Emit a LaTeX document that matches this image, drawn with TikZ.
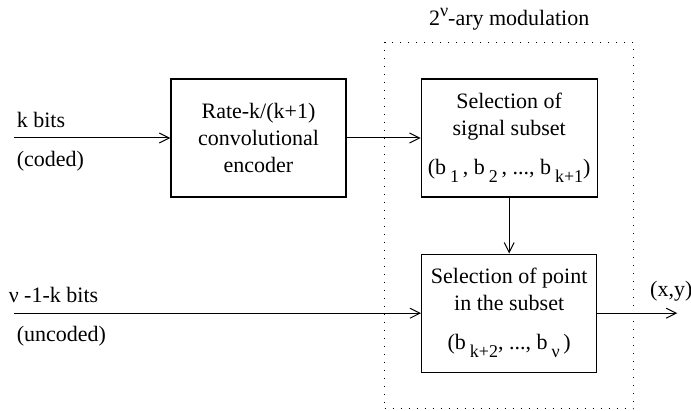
\documentclass[tikz,border=0pt]{standalone}
\usepackage{fontspec}
\setmainfont{Liberation Serif}
\usetikzlibrary{arrows.meta, positioning, fit}
\newcommand{\lowidx}[1]{\kern2pt\raisebox{-4pt}{\fontsize{9}{10}\selectfont #1}}

\begin{document}
\begin{tikzpicture}[
  x=0.5pt, y=-0.5pt,
  box/.style={draw, minimum width=87.5pt, minimum height=59pt, align=center,
    line width=0.6pt, font=\fontsize{11}{13.5}\selectfont},
  conn/.style={-{Straight Barb[length=5pt, width=5pt]}, line width=0.5pt},
  lbl/.style={font=\fontsize{11}{13.5}\selectfont, inner sep=1pt},
  group/.style={draw, dash pattern=on 0.6pt off 3.4pt, line width=0.6pt, inner sep=18pt},
]
\useasboundingbox (0,0) rectangle (691,411);

% =================== blocks ===================
\node[box] (enc) at (258.5,138) {Rate-k/(k+1)\\ convolutional\\ encoder};
\node[box, right=37pt of enc] (subset)
  {Selection of\\ signal subset\\[6pt] (b\lowidx{1}\,, b\lowidx{2}\,, ..., b\lowidx{k+1})};
\node[box, below=28pt of subset] (point)
  {Selection of point\\ in the subset\\[6pt] (b\lowidx{k+2}, ..., b\lowidx{ν}\,)};

% modulator frame
\node[group, fit=(subset)(point)] (mod) {};
\node[lbl, above=4.5pt of mod] (modtitle)
  {2\raisebox{4.5pt}{\fontsize{9}{10}\selectfont ν}-ary modulation};

% =================== inputs / output ===================
\coordinate[left=78pt of enc.west] (kin);
\coordinate (uin) at (kin |- point.west);
\coordinate[right=40pt of point.east] (xyout);

\draw[conn] (kin) -- (enc.west);
\draw[conn] (enc) -- (subset);
\draw[conn] (subset) -- (point);
\draw[conn] (uin) -- (point.west);
\draw[conn] (point.east) -- (xyout);

\node[lbl, anchor=south west, yshift=4pt] (kbits) at (kin) {k bits};
\node[lbl, anchor=north west, yshift=-5.5pt] (coded) at (kin) {(coded)};
\node[lbl, anchor=south west, xshift=-4pt, yshift=4pt] (ubits) at (uin) {ν -1-k bits};
\node[lbl, anchor=north west, yshift=-5.5pt] (uncoded) at (uin) {(uncoded)};
\node[lbl, anchor=south, xshift=-3pt, yshift=5pt] (xy) at (xyout) {(x,y)};

\end{tikzpicture}
\end{document}
